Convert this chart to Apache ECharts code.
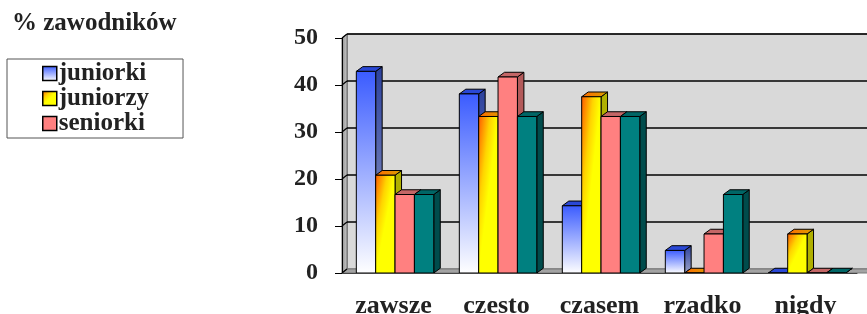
<!DOCTYPE html>
<html>
<head>
<meta charset="utf-8">
<script src="https://cdn.jsdelivr.net/npm/echarts@6/dist/echarts.min.js"></script>
<style>
	html, body { margin: 0; padding: 0; background: #fff; }
	#chartView { width: 867px; height: 314px; }
</style>
</head>
<body>
<div id="chartView"></div>
<script>
var categories = ['zawsze', 'czesto', 'czasem', 'rzadko', 'nigdy'];
var juniorki = [42.9, 38.1, 14.3, 4.8, 0];
var juniorzy = [20.8, 33.3, 37.5, 0, 8.3];
var seniorki = [16.7, 41.7, 33.3, 8.3, 0];
var seniorzy = [16.7, 33.3, 33.3, 16.7, 0];
var yTicks = [0, 10, 20, 30, 40, 50];

var FONT = 'Liberation Serif';
var DX = 5, DY = 4; // glebokosc scian

var orangeStops = [
	{offset: 0, color: '#ff5a00'},
	{offset: 0.12, color: '#ff8c00'},
	{offset: 0.3, color: '#ffd400'},
	{offset: 0.5, color: '#ffff00'},
	{offset: 1, color: '#ffff00'}
];

// kolory: przod, gora, bok
var looks = [
	{
		front: new echarts.graphic.LinearGradient(0, 0, 0, 1, [{offset: 0, color: '#3a5bff'}, {offset: 1, color: '#ffffff'}]),
		top: '#2a48d6',
		side: new echarts.graphic.LinearGradient(0, 0, 0, 1, [{offset: 0, color: '#2c419e'}, {offset: 1, color: '#9aa2c8'}])
	},
	{
		front: new echarts.graphic.LinearGradient(0, 0, 1, 1, orangeStops),
		diag: true,
		top: new echarts.graphic.LinearGradient(0, 0, 1, 0, [{offset: 0, color: '#ff6a00'}, {offset: 1, color: '#d9a000'}]),
		side: '#b0b000'
	},
	{front: '#ff8080', top: '#c46666', side: '#b35a5a'},
	{front: '#008080', top: '#006666', side: '#004c4c'}
];

function barRenderer(s) {
	return function (params, api) {
		var cat = api.value(0), v = api.value(1);
		var base = api.coord([cat, 0]);
		var top = api.coord([cat, v]);
		var band = api.size([1, 0])[0];
		var bw = band * 0.188;
		var x0 = base[0] - 2 * bw + band * 0.015 + s * bw;
		var x1 = x0 + bw;
		var yb = base[1], yt = top[1];
		var dx = band * 0.063, dy = band * 0.046;
		var st = {stroke: '#000', lineWidth: 1};
		var lk = looks[s];
		var fill = lk.front;
		var h = yb - yt;
		if (lk.diag && h > 0) {
			// ukosny gradient od lewego gornego rogu
			var k = 2 * bw * h / (h * h + bw * bw);
			fill = new echarts.graphic.LinearGradient(x0, yt, x0 + h * k, yt + bw * k, orangeStops, true);
		}
		return {
			type: 'group',
			children: [
				{type: 'polygon', shape: {points: [[x1, yt], [x1 + dx, yt - dy], [x1 + dx, yb - dy], [x1, yb]]}, style: Object.assign({fill: lk.side}, st)},
				{type: 'polygon', shape: {points: [[x0, yt], [x1, yt], [x1 + dx, yt - dy], [x0 + dx, yt - dy]]}, style: Object.assign({fill: lk.top}, st)},
				{type: 'rect', shape: {x: x0, y: yt, width: bw, height: h}, style: Object.assign({fill: fill}, st)}
			]
		};
	};
}

function wallRenderer(params, api) {
	var cs = params.coordSys;
	var l = cs.x, t = cs.y, r = cs.x + cs.width, b = cs.y + cs.height;
	var children = [];
	// tylna sciana
	children.push({type: 'rect', shape: {x: l + DX, y: t - DY, width: r - l + 10, height: b - t}, style: {fill: '#d9d9d9', stroke: '#555', lineWidth: 1}});
	// lewa sciana
	children.push({type: 'polygon', shape: {points: [[l, b], [l, t], [l + DX, t - DY], [l + DX, b - DY]]},
		style: {fill: new echarts.graphic.LinearGradient(0, 0, 1, 0, [{offset: 0, color: '#8a8a8a'}, {offset: 1, color: '#cfcfcf'}]), stroke: '#666', lineWidth: 1}});
	// podloga
	children.push({type: 'polygon', shape: {points: [[l, b], [r + 10, b], [r + 10 + DX, b - DY], [l + DX, b - DY]]},
		style: {fill: '#a3a3a3', stroke: '#777', lineWidth: 1}});
	// linie siatki
	yTicks.forEach(function (v) {
		var y = api.coord([0, v])[1];
		if (v > 0) {
			children.push({type: 'line', shape: {x1: l + DX, y1: y - DY, x2: r + 20, y2: y - DY}, style: {stroke: '#000', lineWidth: 1.5}});
		}
		children.push({type: 'line', shape: {x1: l, y1: y, x2: l + DX, y2: y - DY}, style: {stroke: '#000', lineWidth: 1.2}});
	});
	return {type: 'group', children: children};
}

function pairs(arr) {
	return arr.map(function (v, i) { return [i, v]; });
}

var chartView = echarts.init(document.getElementById('chartView'));
var names = ['juniorki', 'juniorzy', 'seniorki', 'seniorzy'];
var values = [juniorki, juniorzy, seniorki, seniorzy];
var series = [{
	name: 'tlo',
	type: 'custom',
	z: 1,
	silent: true,
	renderItem: wallRenderer,
	data: [[0, 0]],
	encode: {x: 0, y: 1}
}];
values.forEach(function (arr, s) {
	series.push({
		name: names[s],
		type: 'custom',
		z: 2,
		renderItem: barRenderer(s),
		itemStyle: {color: looks[s].front},
		data: pairs(arr),
		encode: {x: 0, y: 1}
	});
});

var ops = {
	animation: false,
	title: {
		text: '% zawodników',
		left: 12,
		top: 11,
		padding: 0,
		textStyle: {fontFamily: FONT, fontWeight: 'bold', fontSize: 25, color: '#222'}
	},
	legend: {
		data: ['juniorki', 'juniorzy', 'seniorki'],
		orient: 'vertical',
		left: 7,
		top: 59,
		padding: [2, 34, 2, 35],
		itemGap: 0,
		itemWidth: 14,
		itemHeight: 14,
		icon: 'rect',
		borderColor: '#555',
		borderWidth: 1,
		backgroundColor: '#fff',
		selectedMode: false,
		itemStyle: {borderColor: '#000', borderWidth: 1.5},
		textStyle: {fontFamily: FONT, fontWeight: 'bold', fontSize: 25, lineHeight: 25, color: '#222', padding: [0, 0, 0, -3]}
	},
	grid: {left: 342, top: 38, width: 515, height: 235, outerBoundsMode: 'none'},
	xAxis: {
		type: 'category',
		data: categories,
		z: 5,
		axisLine: {lineStyle: {color: '#444', width: 1}},
		axisTick: {length: 7, lineStyle: {color: '#444'}},
		axisLabel: {interval: 0, margin: 20, fontFamily: FONT, fontWeight: 'bold', fontSize: 26, color: '#222'}
	},
	yAxis: {
		type: 'value',
		min: 0,
		max: 50,
		interval: 10,
		z: 5,
		axisLine: {show: true, lineStyle: {color: '#000', width: 1}},
		axisTick: {show: true, length: 7, lineStyle: {color: '#000'}},
		splitLine: {show: false},
		axisLabel: {margin: 24, fontFamily: FONT, fontWeight: 'bold', fontSize: 24, color: '#222'}
	},
	series: series
};
chartView.setOption(ops);
</script>
</body>
</html>
